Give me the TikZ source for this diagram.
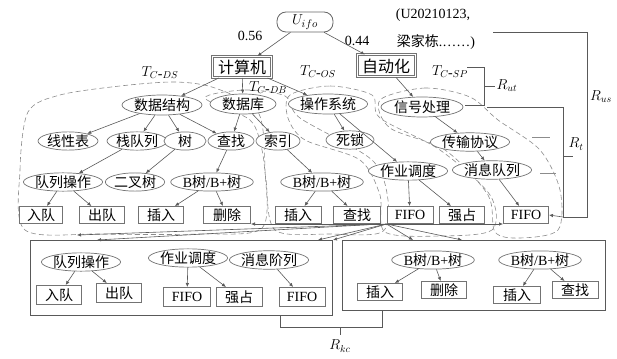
\documentclass[tikz,border=0pt]{standalone}
\usepackage{fontspec}
\setmainfont{Liberation Serif}
\newfontfamily\cjk{Noto Sans CJK SC}
\usetikzlibrary{shapes.geometric,arrows.meta}
\newcommand\zh[1]{{\cjk #1}}
\newcommand\Btree{{\rmfamily B}树{\rmfamily /B+}树}
\begin{document}
\begin{tikzpicture}[x=1pt,y=-1pt,
  el/.style={ellipse, draw=black!55, line width=0.7pt, fill=white, inner sep=0pt, minimum height=18pt, font=\fontsize{14}{15}\selectfont\cjk},
  bx/.style={rectangle, draw=black!55, line width=1pt, fill=white, inner sep=0pt, minimum height=17pt, font=\fontsize{14}{15}\selectfont\cjk},
  arr/.style={draw=black!65, line width=0.6pt, -{Latex[length=4pt,width=3.5pt]}},
  reg/.style={draw=black!45, line width=0.6pt, dash pattern=on 5pt off 3pt},
  br/.style={draw=black!65, line width=0.8pt},
  lab/.style={inner sep=0pt, font=\fontsize{14}{16}\selectfont}]
\useasboundingbox (0,0) rectangle (617,358);

% dashed regions
\draw[reg] plot[smooth cycle] coordinates {(25,230) (20,170) (28,112) (60,95) (120,86) (175,82) (215,88) (258,112) (265,170) (262,228) (200,234) (100,234)};
\draw[reg] plot[smooth cycle] coordinates {(205,98) (245,90) (285,96) (300,118) (372,160) (388,200) (382,232) (330,234) (275,230) (266,180) (262,150) (250,120)};
\draw[reg] plot[smooth cycle] coordinates {(290,95) (330,86) (372,95) (380,118) (440,150) (490,195) (492,230) (440,236) (385,232) (380,195) (360,160) (305,140) (288,118)};
\draw[reg] plot[smooth cycle] coordinates {(380,100) (425,88) (470,97) (498,120) (540,150) (560,190) (558,230) (520,238) (495,232) (488,195) (445,150) (390,128)};

% top
\node[draw=black!60, line width=0.8pt, rounded corners=9pt, minimum width=56pt, minimum height=20pt, inner sep=0pt, fill=white, font=\fontsize{15}{16}\selectfont] (U) at (305,22) {$U_{ifo}$};
\node[bx, minimum width=59pt, minimum height=21pt, font=\fontsize{16}{17}\selectfont\cjk, double=white, double distance=1pt] (jsj) at (242,67) {计算机};
\node[bx, minimum width=58pt, minimum height=22pt, font=\fontsize{16}{17}\selectfont\cjk, double=white, double distance=1pt] (zdh) at (386,66) {自动化};
\node[lab] (w1) at (250,36) {0.56};
\node[lab] (w2) at (357,41) {0.44};
\node[lab] (id1) at (433,15) {(U20210123,};
\node[lab] (id2) at (436,42) {\zh{梁家栋}.……)};
\node[lab] (tds) at (160,73) {$T_{C\mbox{-}DS}$};
\node[lab] (tos) at (318,72) {$T_{C\mbox{-}OS}$};
\node[lab] (tsp) at (450,72) {$T_{C\mbox{-}SP}$};
\node[lab] (tdb) at (268,88) {$T_{C\mbox{-}DB}$};

% level 2
\node[el, minimum width=80pt, minimum height=20pt] (sjjg) at (162,105) {数据结构};
\node[el, minimum width=66pt, minimum height=20pt] (sjk) at (243,104) {数据库};
\node[el, minimum width=78pt, minimum height=20pt] (czxt) at (328,104) {操作系统};
\node[el, minimum width=82pt, minimum height=20pt] (xhcl) at (422,107) {信号处理};
% level 3
\node[el, minimum width=60pt] (xxb) at (68,141) {线性表};
\node[el, minimum width=60pt] (zdl) at (137,141) {栈队列};
\node[el, minimum width=42pt] (shu) at (185,141) {树};
\node[el, minimum width=46pt] (cz) at (231,141) {查找};
\node[el, minimum width=44pt] (sy) at (278,141) {索引};
\node[el, minimum width=48pt] (sisuo) at (350,140) {死锁};
\node[el, minimum width=72pt] (csxy) at (470,142) {传输协议};
% level 4
\node[el, minimum width=76pt] (dlcz) at (63,182) {队列操作};
\node[el, minimum width=58pt] (ecs) at (135,182) {二叉树};
\node[el, minimum width=78pt] (bs1) at (212,182) {\Btree};
\node[el, minimum width=80pt] (bs2) at (322,182) {\Btree};
\node[el, minimum width=70pt] (zydd) at (408,171) {作业调度};
\node[el, minimum width=76pt] (xxdl) at (492,170) {消息队列};
% level 5
\node[bx, minimum width=43pt] (rd1) at (41,215) {入队};
\node[bx, minimum width=45pt] (cd1) at (102,215) {出队};
\node[bx, minimum width=45pt] (cr1) at (161,215) {插入};
\node[bx, minimum width=47pt] (sc1) at (227,215) {删除};
\node[bx, minimum width=46pt] (cr2) at (298,215) {插入};
\node[bx, minimum width=47pt] (cz2) at (357,215) {查找};
\node[bx, minimum width=46pt] (fifo1) at (410,215) {\rmfamily FIFO};
\node[bx, minimum width=45pt] (qz1) at (462,215) {强占};
\node[bx, minimum width=45pt] (fifo2) at (526,215) {\rmfamily FIFO};

% bottom boxes
\draw[br] (30,240) rectangle (332,315);
\draw[br] (342,240) rectangle (605,310);
\node[el, minimum width=78pt] (dlcz2) at (81,262) {队列操作};
\node[el, minimum width=70pt] (zydd2) at (188,258) {作业调度};
\node[el, minimum width=74pt] (xxjl) at (269,260) {消息阶列};
\node[bx, minimum width=45pt, minimum height=19pt] (rd2) at (59,295) {入队};
\node[bx, minimum width=45pt, minimum height=19pt] (cd2) at (119,293) {出队};
\node[bx, minimum width=47pt, minimum height=19pt] (fifo3) at (187,297) {\rmfamily FIFO};
\node[bx, minimum width=46pt, minimum height=19pt] (qz2) at (239,297) {强占};
\node[bx, minimum width=46pt, minimum height=19pt] (fifo4) at (302,297) {\rmfamily FIFO};
\node[el, minimum width=80pt] (bs3) at (433,260) {\Btree};
\node[el, minimum width=80pt] (bs4) at (540,260) {\Btree};
\node[bx, minimum width=45pt] (cr3) at (380,292) {插入};
\node[bx, minimum width=45pt] (sc2) at (444,290) {删除};
\node[bx, minimum width=47pt] (cr4) at (517,295) {插入};
\node[bx, minimum width=46pt] (cz3) at (575,290) {查找};

% tree edges
\draw[arr] (U) -- (jsj);
\draw[arr] (U) -- (zdh);
\draw[arr] (jsj) -- (sjjg);
\draw[arr] (jsj) -- (sjk);
\draw[arr] (jsj) -- (czxt);
\draw[arr] (zdh) -- (xhcl);
\draw[arr] (sjjg) -- (xxb);
\draw[arr] (sjjg) -- (zdl);
\draw[arr] (sjjg) -- (shu);
\draw[arr] (sjjg) -- (cz);
\draw[arr] (sjk) -- (cz);
\draw[arr] (sjk) -- (sy);
\draw[arr] (czxt) -- (sisuo);
\draw[arr] (czxt) -- (zydd);
\draw[arr] (xhcl) -- (csxy);
\draw[arr] (csxy) -- (xxdl);
\draw[arr] (zdl) -- (dlcz);
\draw[arr] (shu) -- (ecs);
\draw[arr] (cz) -- (bs1);
\draw[arr] (sy) -- (bs2);
\draw[arr] (dlcz) -- (rd1);
\draw[arr] (dlcz) -- (cd1);
\draw[arr] (bs1) -- (cr1);
\draw[arr] (bs1) -- (sc1);
\draw[arr] (bs2) -- (cr2);
\draw[arr] (bs2) -- (cz2);
\draw[arr] (zydd) -- (fifo1);
\draw[arr] (zydd) -- (qz1);
\draw[arr] (xxdl) -- (fifo2);
\draw[arr] (dlcz2) -- (rd2);
\draw[arr] (dlcz2) -- (cd2);
\draw[arr] (zydd2) -- (fifo3);
\draw[arr] (zydd2) -- (qz2);
\draw[arr] (xxjl) -- (fifo4);
\draw[arr] (bs3) -- (cr3);
\draw[arr] (bs3) -- (sc2);
\draw[arr] (bs4) -- (cr4);
\draw[arr] (bs4) -- (cz3);

% links into the bottom boxes
\coordinate (L1) at (97,240);
\coordinate (L2) at (77,235);
\coordinate (R1) at (318,240);
\coordinate (R2) at (333,240);
\coordinate (R3) at (413,240);
\coordinate (R4) at (462,240);
\draw[arr] (cz2.south east) -- (L1);
\draw[arr] (fifo1.south west) -- (L2);
\draw[arr] (fifo1.south west) -- (sc1.south east);
\draw[arr] (fifo1.south west) -- (R1);
\draw[arr] (fifo1.south west) -- (R2);
\draw[arr] (fifo1.south west) -- (R3);
\draw[arr] (fifo1.south west) -- (R4);
\draw[arr] (fifo1.south west) -- (fifo2.south west);

% right brackets
\coordinate (usA) at (493,32);
\draw[br] (usA) -- (587,32) -- (587,217) -- (563,217);
\node[lab] (Rus) at (601,97) {$R_{us}$};
\coordinate (utA) at (467,67);
\coordinate (utB) at (465,105);
\draw[br] (utA) -- (484,67) -- (484,105) -- (utB);
\draw[br] (484,86) -- (495,86);
\node[lab] (Rut) at (507,86) {$R_{ut}$};
\draw[br] (487,107) -- (563,107) -- (563,217);
\draw[arr] (563,217) -- (fifo2.east);
\draw[br] (563,156) -- (573,156);
\node[lab] (Rt) at (576,144) {$R_t$};
\draw[draw=black!45, line width=0.8pt] (532,137) -- (550,137);
\draw[draw=black!45, line width=0.8pt] (540,173) -- (556,173);
% R_kc bracket
\draw[br] (280,315) -- (280,327) -- (382,327) -- (382,310);
\draw[br] (340,327) -- (340,335);
\node[lab] (Rkc) at (340,346) {$R_{kc}$};
\end{tikzpicture}
\end{document}
